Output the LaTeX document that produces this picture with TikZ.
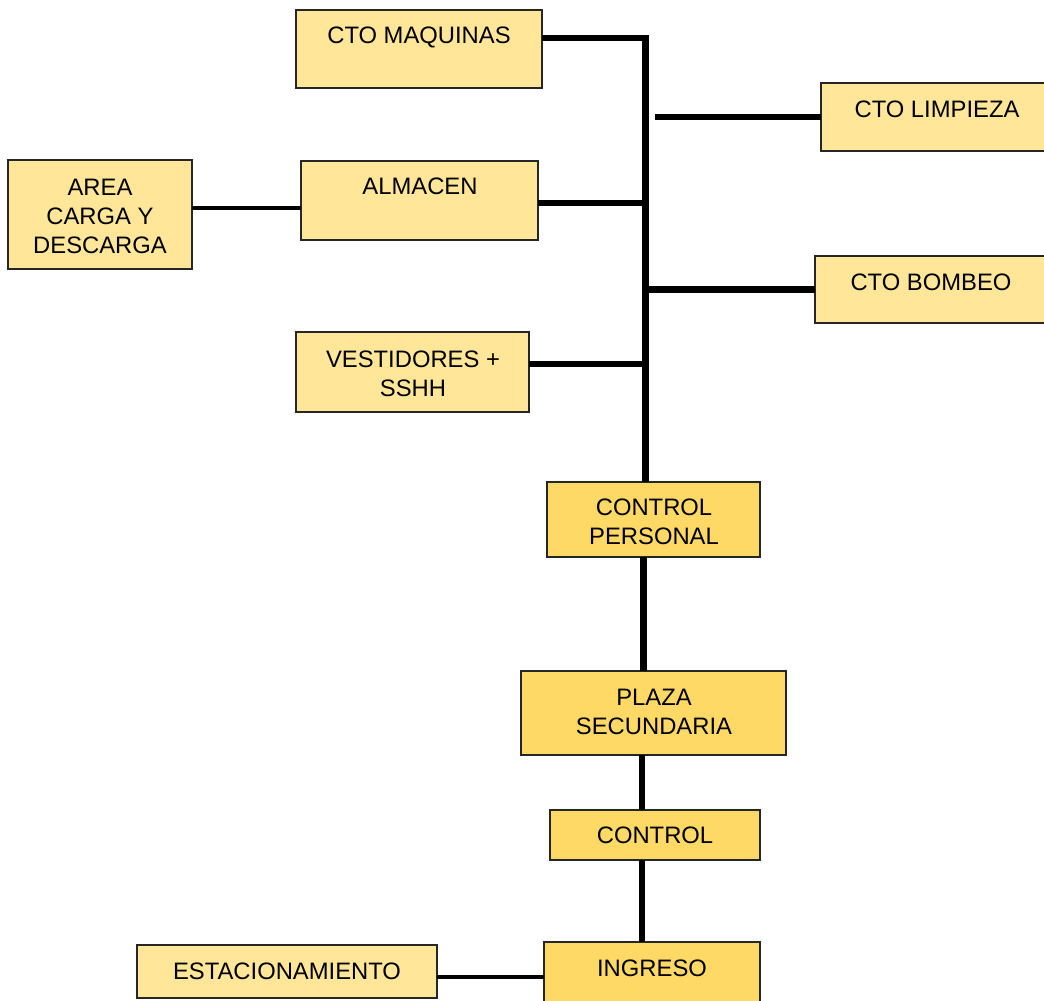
\documentclass[tikz,border=0pt]{standalone}
\usepackage{fontspec}
\setmainfont{Liberation Sans}
\definecolor{lightbox}{HTML}{FFE699}
\definecolor{darkbox}{HTML}{FFD966}
\begin{document}
\begin{tikzpicture}[x=1pt,y=-1pt,
  box/.style={draw=black!85, line width=1.3pt, inner sep=0pt, outer sep=0pt},
  lbox/.style={box, fill=lightbox},
  dbox/.style={box, fill=darkbox},
  txt/.style={font=\fontsize{23.8}{29}\selectfont, align=center, inner sep=0pt, anchor=base},
  heavy/.style={line width=6.5pt},
  thinlink/.style={line width=3.5pt}]
\useasboundingbox (0,0) rectangle (1044,1001);
% boxes
\node[lbox, minimum width=246pt, minimum height=78pt] (maq) at (419,49) {};
\node[lbox, minimum width=226pt, minimum height=68pt] (lim) at (934,117) {};
\node[lbox, minimum width=184pt, minimum height=109pt] (area) at (100,214.5) {};
\node[lbox, minimum width=237pt, minimum height=79pt] (alm) at (419.5,200.5) {};
\node[lbox, minimum width=232pt, minimum height=67pt] (bom) at (931,289.5) {};
\node[lbox, minimum width=233pt, minimum height=80pt] (ves) at (412.5,372) {};
\node[dbox, minimum width=213pt, minimum height=75pt] (cp) at (653.5,519.5) {};
\node[dbox, minimum width=265pt, minimum height=84pt] (plz) at (653.5,713) {};
\node[dbox, minimum width=210pt, minimum height=50pt] (ctl) at (655,835) {};
\node[dbox, minimum width=216pt, minimum height=62pt] (ing) at (652,973) {};
\node[lbox, minimum width=300pt, minimum height=53pt] (est) at (287,971.5) {};
% texts (anchor = baseline of the last line)
\node[txt] (maq-t) at (419,43) {CTO MAQUINAS};
\node[txt] (lim-t) at (937,117) {CTO LIMPIEZA};
\node[txt] (area-t) at (100,253) {AREA\\CARGA Y\\DESCARGA};
\node[txt] (alm-t) at (420,194) {ALMACEN};
\node[txt] (bom-t) at (931,290) {CTO BOMBEO};
\node[txt] (ves-t) at (413,396) {VESTIDORES +\\SSHH};
\node[txt] (cp-t) at (654,544) {CONTROL\\PERSONAL};
\node[txt] (plz-t) at (654,734) {PLAZA\\SECUNDARIA};
\node[txt] (ctl-t) at (655,843) {CONTROL};
\node[txt] (ing-t) at (652,976) {INGRESO};
\node[txt] (est-t) at (287,979) {ESTACIONAMIENTO};
% connectors
\coordinate (spinetop) at (645.5,38);
\coordinate (spinebot) at ([xshift=-8pt]cp.north);
\coordinate (limend) at (655,116);
\coordinate (aaline) at (0,208);
\coordinate (esline) at (0,977);
\draw[heavy] (maq.east |- spinetop) -- (spinetop) -- (spinebot);
\draw[heavy] (lim.west) -- (lim.west -| limend);
\draw[heavy] (alm.east |- 0,203) -- (spinetop |- 0,203);
\draw[heavy] (bom.west) -- (bom.west -| spinetop);
\draw[heavy] ([yshift=8pt]ves.east) -- ([yshift=8pt]ves.east -| spinetop);
\draw[thinlink] (area.east |- aaline) -- (alm.west |- aaline);
\draw[heavy] ([xshift=-10pt]cp.south) -- ([xshift=-10pt]cp.south |- plz.north);
\draw[heavy] ([xshift=-11.5pt]plz.south) -- ([xshift=-11.5pt]plz.south |- ctl.north);
\draw[heavy] ([xshift=-13pt]ctl.south) -- ([xshift=-13pt]ctl.south |- ing.north);
\draw[thinlink] (est.east |- esline) -- (ing.west |- esline);
\end{tikzpicture}
\end{document}
